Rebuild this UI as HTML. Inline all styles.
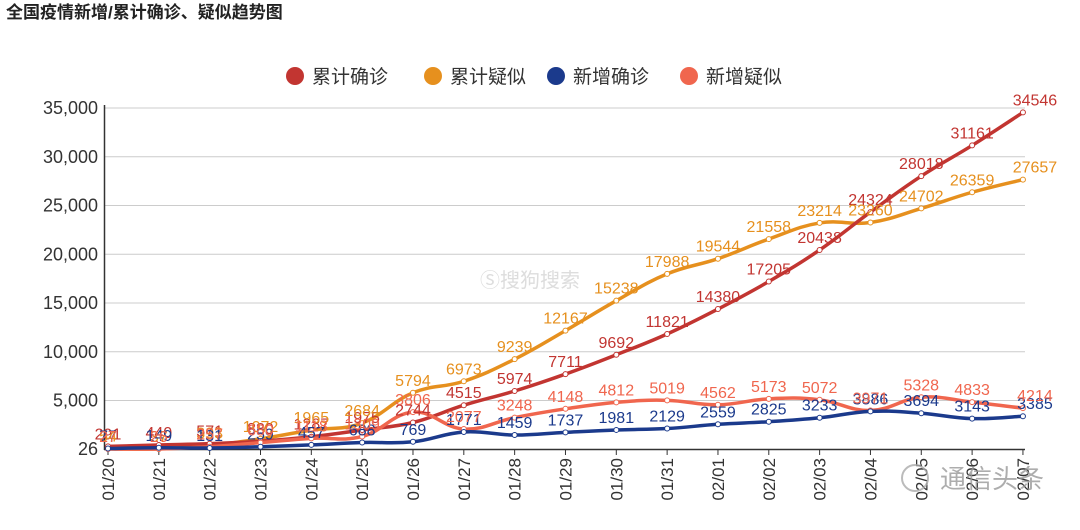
<!DOCTYPE html>
<html><head><meta charset="utf-8"><style>
body{margin:0;background:#fff;width:1080px;height:525px;overflow:hidden;font-family:"Liberation Sans","Noto Sans CJK SC",sans-serif}
</style></head><body>
<svg id="c" width="1080" height="525" xmlns="http://www.w3.org/2000/svg" font-family="Liberation Sans, Noto Sans CJK SC, sans-serif">
<text x="6" y="18" font-size="17" font-weight="bold" fill="#222">全国疫情新增/累计确诊、疑似趋势图</text>
<g font-size="19" fill="#333">
<circle cx="295" cy="76" r="9" fill="#c23531"/><text x="312" y="83">累计确诊</text>
<circle cx="433" cy="76" r="9" fill="#e6901e"/><text x="450" y="83">累计疑似</text>
<circle cx="556" cy="76" r="9" fill="#1b3a8c"/><text x="573" y="83">新增确诊</text>
<circle cx="689" cy="76" r="9" fill="#f0664e"/><text x="706" y="83">新增疑似</text>
</g>
<text x="480" y="287" font-size="20" fill="#ddd">Ⓢ搜狗搜索</text>
<g id="grid" stroke="#ccc" stroke-width="1"></g>
<line x1="104" y1="449.5" x2="1025" y2="449.5" stroke="#333" stroke-width="1.5"/>
<line x1="104.5" y1="105" x2="104.5" y2="450" stroke="#333" stroke-width="1.5"/>
<g id="ylab" font-size="18" fill="#333" text-anchor="end">
<text>26</text><text>5,000</text><text>10,000</text><text>15,000</text><text>20,000</text><text>25,000</text><text>30,000</text><text>35,000</text>
</g>
<g id="xlab" font-size="17" fill="#333" text-anchor="end">
<text>01/20</text><text>01/21</text><text>01/22</text><text>01/23</text><text>01/24</text><text>01/25</text><text>01/26</text><text>01/27</text><text>01/28</text><text>01/29</text><text>01/30</text><text>01/31</text><text>02/01</text><text>02/02</text><text>02/03</text><text>02/04</text><text>02/05</text><text>02/06</text><text>02/07</text>
</g>
<g id="lines"></g>
<g id="l0" font-size="16" fill="#c23531" text-anchor="middle"><text>291</text><text>440</text><text>571</text><text>830</text><text>1287</text><text>1975</text><text>2744</text><text>4515</text><text>5974</text><text>7711</text><text>9692</text><text>11821</text><text>14380</text><text>17205</text><text>20438</text><text>24324</text><text>28018</text><text>31161</text><text>34546</text></g>
<g id="l1" font-size="16" fill="#e6901e" text-anchor="middle"><text>54</text><text>37</text><text>393</text><text>1072</text><text>1965</text><text>2684</text><text>5794</text><text>6973</text><text>9239</text><text>12167</text><text>15238</text><text>17988</text><text>19544</text><text>21558</text><text>23214</text><text>23260</text><text>24702</text><text>26359</text><text>27657</text></g>
<g id="l2" font-size="16" fill="#1b3a8c" text-anchor="middle"><text>77</text><text>149</text><text>131</text><text>259</text><text>457</text><text>688</text><text>769</text><text>1771</text><text>1459</text><text>1737</text><text>1981</text><text>2129</text><text>2559</text><text>2825</text><text>3233</text><text>3886</text><text>3694</text><text>3143</text><text>3385</text></g>
<g id="l3" font-size="16" fill="#f0664e" text-anchor="middle"><text>27</text><text>26</text><text>257</text><text>680</text><text>1118</text><text>1309</text><text>3806</text><text>2077</text><text>3248</text><text>4148</text><text>4812</text><text>5019</text><text>4562</text><text>5173</text><text>5072</text><text>3971</text><text>5328</text><text>4833</text><text>4214</text></g>
<text x="940" y="488" font-size="26" fill="#999" opacity="0.8">通信头条</text>
<circle cx="915" cy="478" r="13" fill="none" stroke="#aaa" stroke-width="2" opacity="0.8"/>
</svg>
<script>
var S="http://www.w3.org/2000/svg";
function X(i){return 108+i*50.83}
function Y(v){return 449-(v-26)/5000*48.75}
var g=document.getElementById('grid');
[5000,10000,15000,20000,25000,30000,35000].forEach(function(v){var l=document.createElementNS(S,'line');l.setAttribute('x1',104);l.setAttribute('x2',1025);l.setAttribute('y1',Y(v));l.setAttribute('y2',Y(v));g.appendChild(l);});
var yv=[26,5000,10000,15000,20000,25000,30000,35000];
document.querySelectorAll('#ylab text').forEach(function(t,i){t.setAttribute('x',98);t.setAttribute('y',Y(yv[i])+6);});
document.querySelectorAll('#xlab text').forEach(function(t,i){var x=X(i)+6,y=458;t.setAttribute('x',x);t.setAttribute('y',y);t.setAttribute('transform','rotate(-90 '+x+' '+y+')');
var k=document.createElementNS(S,'line');k.setAttribute('x1',X(i));k.setAttribute('x2',X(i));k.setAttribute('y1',449);k.setAttribute('y2',455);k.setAttribute('stroke','#333');g.appendChild(k);});
var D=[[291,440,571,830,1287,1975,2744,4515,5974,7711,9692,11821,14380,17205,20438,24324,28018,31161,34546],
[54,37,393,1072,1965,2684,5794,6973,9239,12167,15238,17988,19544,21558,23214,23260,24702,26359,27657],
[77,149,131,259,444,688,769,1771,1459,1737,1981,2129,2559,2825,3233,3886,3694,3143,3385],
[27,26,257,680,1118,1309,3806,2077,3248,4148,4812,5019,4562,5173,5072,3971,5328,4833,4214]];
var C=['#c23531','#e6901e','#1b3a8c','#f0664e'];
var L=document.getElementById('lines');
[1,0,3,2].forEach(function(s){var p=D[s].map(function(v,i){return [X(i),Y(v)]});
var d='M'+p[0][0]+','+p[0][1];
for(var i=0;i<p.length-1;i++){var a=p[i-1]||p[i],b=p[i],c=p[i+1],e=p[i+2]||c,t=0.2;
d+='C'+(b[0]+(c[0]-a[0])*t)+','+(b[1]+(c[1]-a[1])*t)+' '+(c[0]-(e[0]-b[0])*t)+','+(c[1]-(e[1]-b[1])*t)+' '+c[0]+','+c[1];}
var pa=document.createElementNS(S,'path');pa.setAttribute('d',d);pa.setAttribute('fill','none');pa.setAttribute('stroke',C[s]);pa.setAttribute('stroke-width',3.5);L.appendChild(pa);
p.forEach(function(q){var c=document.createElementNS(S,'circle');c.setAttribute('cx',q[0]);c.setAttribute('cy',q[1]);c.setAttribute('r',2.5);c.setAttribute('fill','#fff');c.setAttribute('stroke',C[s]);L.appendChild(c);});
document.querySelectorAll('#l'+s+' text').forEach(function(t,i){t.setAttribute('x',p[i][0]+(i==18?12:0));t.setAttribute('y',p[i][1]-7);});
});
</script>
</body></html>
